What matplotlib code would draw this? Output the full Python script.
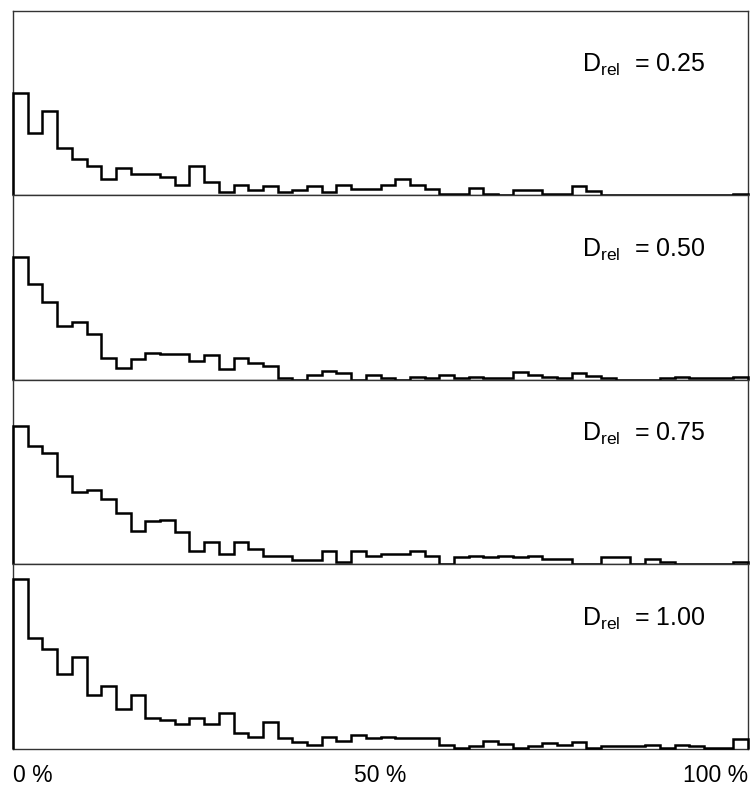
import numpy as np
import matplotlib
matplotlib.use("Agg")
import matplotlib.pyplot as plt
from matplotlib.transforms import blended_transform_factory

plt.rcParams['font.family'] = ['Liberation Sans', 'DejaVu Sans']
plt.rcParams['mathtext.fontset'] = 'custom'
plt.rcParams['mathtext.rm'] = 'Liberation Sans'

# Histogram bins: 50 classes of 2 % each over 0-100 %
bin_edges = np.linspace(0, 100, 51)

# Frequencies per bin for each relative distance
counts_025 = [102, 62, 84, 47, 36, 29, 16, 27, 21, 21,
              18, 10, 29, 13, 3, 10, 5, 9, 3, 5,
              9, 3, 10, 6, 6, 10, 16, 10, 6, 1,
              1, 7, 1, 0, 5, 5, 1, 1, 9, 4,
              0, 0, 0, 0, 0, 0, 0, 0, 0, 1]
counts_050 = [123, 96, 78, 54, 58, 46, 22, 12, 21, 27,
              26, 26, 19, 25, 11, 22, 17, 14, 2, 0,
              5, 9, 7, 0, 5, 2, 0, 3, 2, 5,
              2, 3, 2, 2, 8, 5, 3, 2, 7, 4,
              2, 0, 0, 0, 2, 3, 2, 2, 2, 3]
counts_075 = [138, 118, 111, 88, 72, 74, 65, 51, 33, 43,
              44, 32, 13, 22, 10, 22, 15, 8, 8, 4,
              4, 13, 2, 13, 8, 10, 10, 13, 8, 0,
              7, 8, 7, 8, 7, 8, 5, 5, 0, 0,
              7, 7, 0, 5, 2, 0, 0, 0, 0, 2]
counts_100 = [170, 111, 100, 75, 92, 54, 63, 40, 54, 31,
              29, 25, 31, 25, 36, 16, 12, 27, 11, 7,
              4, 12, 8, 14, 11, 12, 11, 11, 11, 4,
              1, 3, 8, 5, 1, 3, 6, 4, 7, 1,
              3, 3, 3, 4, 1, 4, 3, 1, 1, 10]

d_rel_labels = ["0.25", "0.50", "0.75", "1.00"]
series = [counts_025, counts_050, counts_075, counts_100]
x_tick_values = [0, 50, 100]
x_tick_labels = ["0 %", "50 %", "100 %"]

fig = plt.figure(figsize=(7.53, 8.0), dpi=100)
gs = fig.add_gridspec(4, 1, left=0.0173, right=0.9934,
                      top=1 - 11 / 800, bottom=1 - 748.5 / 800, hspace=0)

axes = []
for i, (vals, lab) in enumerate(zip(series, d_rel_labels)):
    ax = fig.add_subplot(gs[i])
    ax.stairs(vals, bin_edges, baseline=0, color='black', linewidth=1.8,
              clip_on=False, zorder=3)
    ax.set_xlim(0, 100)
    ax.set_ylim(0, 184.4)
    ax.set_xticks([])
    ax.set_yticks([])
    for sp in ax.spines.values():
        sp.set_linewidth(1.0)
        sp.set_color('#333333')
    ax.text(0.774, 0.668, r'D$_\mathregular{rel}$  = ' + lab,
            transform=ax.transAxes, ha='left', va='baseline', fontsize=18)
    axes.append(ax)

bottom_ax = axes[-1]
trans = blended_transform_factory(bottom_ax.transData, bottom_ax.transAxes)
aligns = ['left', 'center', 'right']
for xv, tl, ha in zip(x_tick_values, x_tick_labels, aligns):
    bottom_ax.text(xv, -0.144, tl, transform=trans, ha=ha, va='center',
                   fontsize=16.5)

fig.savefig("out.png", dpi=100, facecolor='white')
